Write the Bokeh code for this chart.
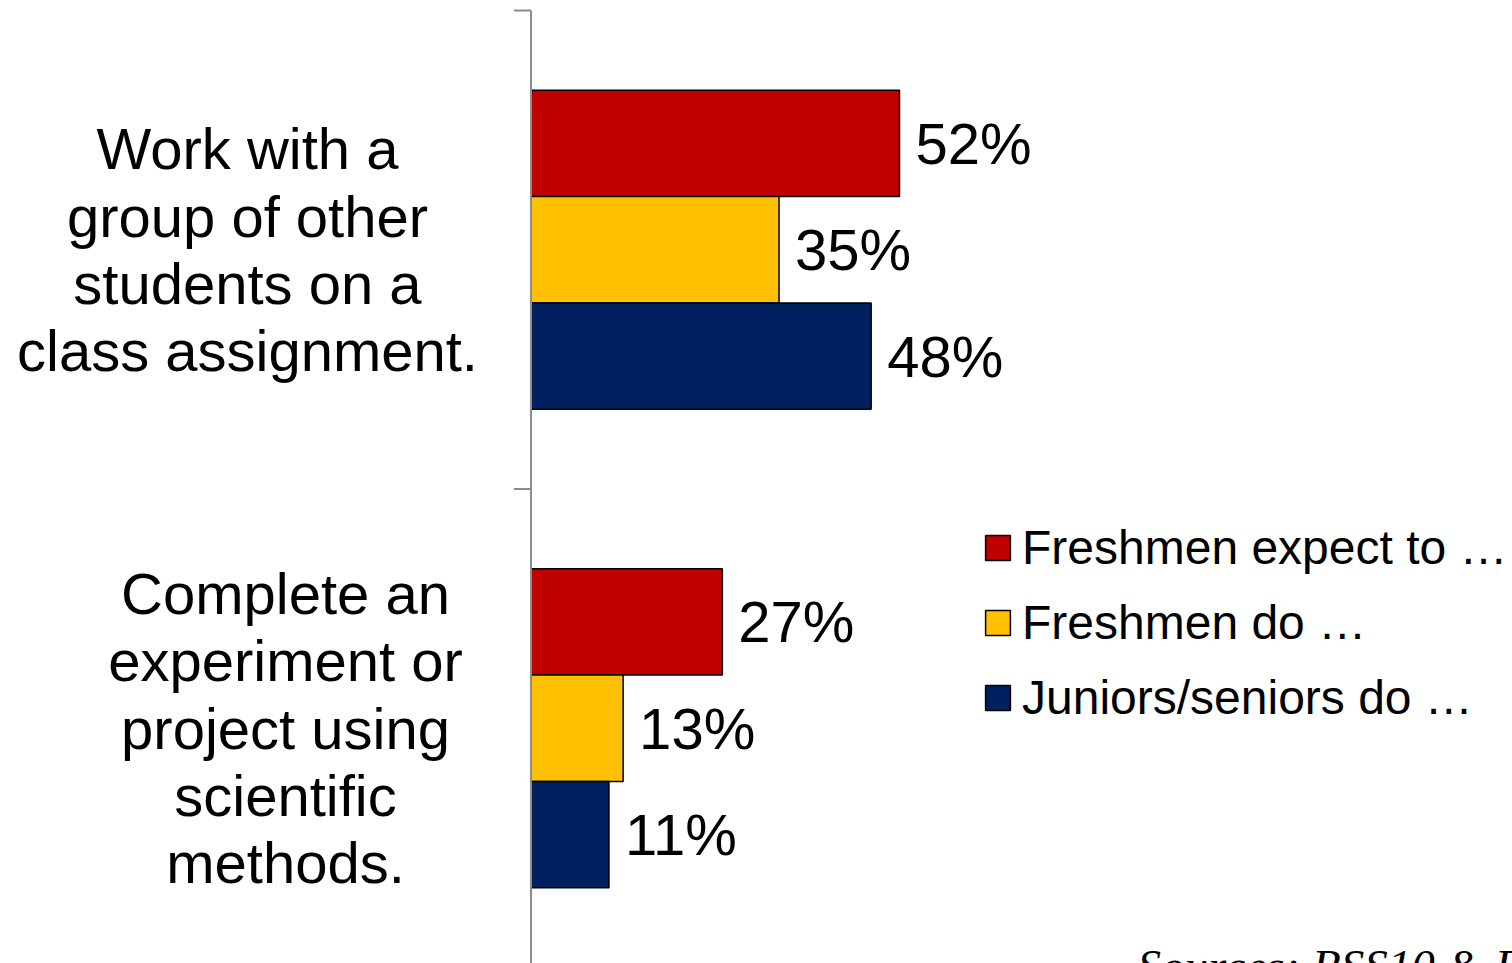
from bokeh.plotting import figure
from bokeh.models import Range1d, Legend, LegendItem, Label, ColumnDataSource
from bokeh.core.properties import value
from bokeh.embed import file_html
from bokeh.resources import INLINE

# ---- data ----
categories = [
    "Work with a\ngroup of other\nstudents on a\nclass assignment.",
    "Complete an\nexperiment or\nproject using\nscientific\nmethods.",
]
series_names = ["Freshmen expect to \u2026", "Freshmen do \u2026", "Juniors/seniors do \u2026"]
freshmen_expect = [52, 27]
freshmen_do = [35, 13]
juniors_seniors_do = [48, 11]
source_note = "Sources: BSS10 & FSS10"

# ---- style ----
colors = ["#C00000", "#FFC000", "#002060"]
bar_h = 0.2222
offsets = [bar_h, 0.0, -bar_h]
label_dx = [-283.5, -245.5]   # screen offsets of category labels from the axis
FONT_NAME = "Liberation Sans"
FONT = value(FONT_NAME)

W, H = 1512, 963
px_per_unit_x = 7.0865
x0 = -530.5 / px_per_unit_x
px_per_unit_y = 478.5
y1 = 2 + 10 / px_per_unit_y

p = figure(width=W, height=H, output_backend="svg", toolbar_location=None,
           x_range=Range1d(x0, x0 + W / px_per_unit_x),
           y_range=Range1d(y1 - H / px_per_unit_y, y1),
           x_axis_location=None, y_axis_location=None, min_border=0)
p.grid.visible = False
p.outline_line_color = None
p.background_fill_color = "white"

n = len(categories)
centers = [n - i - 0.5 for i in range(n)]

renderers = []
for s, vals in enumerate([freshmen_expect, freshmen_do, juniors_seniors_do]):
    ys = [c + offsets[s] for c in centers]
    src = ColumnDataSource(dict(y=ys, v=vals, lab=[f"{v}%" for v in vals]))
    r = p.hbar(y="y", right="v", left=0, height=bar_h, source=src,
               fill_color=colors[s], line_color="black", line_width=1.5)
    renderers.append(r)
    p.text(x="v", y="y", text="lab", source=src, x_offset=16,
           text_font=FONT, text_font_size="58px", text_color="black",
           text_baseline="middle", text_align="left")

# category axis line and ticks
p.segment(x0=[0], y0=[0], x1=[0], y1=[n], line_color="#8c8c8c", line_width=2)
bounds = list(range(n + 1))
p.segment(x0=[-17 / px_per_unit_x] * len(bounds), y0=bounds, x1=[0] * len(bounds), y1=bounds,
          line_color="#8c8c8c", line_width=2)

# category labels
p.text(x=[0] * n, y=centers, text=categories, x_offset=label_dx,
       text_font=FONT, text_font_size="58px", text_color="black",
       text_align="center", text_baseline="middle", text_line_height=1.035)

legend = Legend(items=[LegendItem(label=series_names[i], renderers=[renderers[i]]) for i in range(3)],
                location=(982, 238), orientation="vertical",
                glyph_width=31, glyph_height=31, label_standoff=9,
                label_text_font=FONT_NAME, label_text_font_size="48px",
                label_text_color="black",
                label_height=55, spacing=20, padding=0, margin=0,
                border_line_alpha=0, background_fill_alpha=0)
p.add_layout(legend)

p.add_layout(Label(x=1137, y=-28, x_units="screen", y_units="screen", text=source_note,
                   text_font="Liberation Serif", text_font_style="italic",
                   text_baseline="bottom",
                   text_font_size="47px", text_color="black"))

open("out.html", "w").write(file_html(p, INLINE))
